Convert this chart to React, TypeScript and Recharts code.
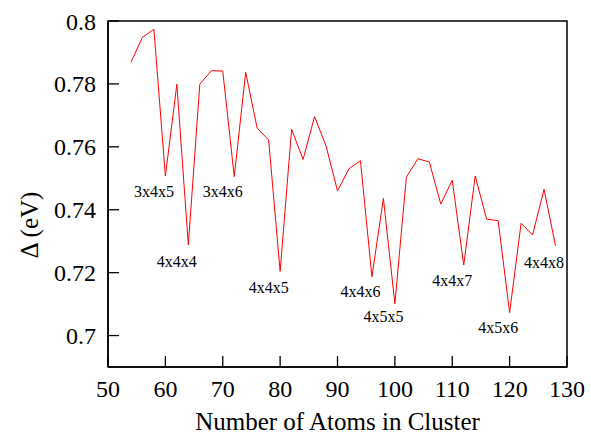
import { Line, LineChart, ReferenceArea, Scatter, XAxis, YAxis } from "recharts";

const atoms = [
  54, 56, 58, 60, 62, 64, 66, 68, 70, 72, 74, 76, 78, 80, 82, 84, 86, 88, 90, 92, 94, 96, 98, 100, 102, 104,
  106, 108, 110, 112, 114, 116, 118, 120, 122, 124, 126, 128,
];
const delta = [
  0.7869, 0.7948, 0.7974, 0.7507, 0.7799, 0.7288, 0.7799, 0.7842, 0.7841, 0.7505, 0.7837, 0.7659, 0.7622,
  0.7204, 0.7656, 0.756, 0.7696, 0.7603, 0.746, 0.753, 0.7556, 0.7187, 0.7436, 0.7101, 0.7503, 0.7562,
  0.7552, 0.7418, 0.7494, 0.7224, 0.7507, 0.737, 0.7365, 0.7073, 0.7357, 0.732, 0.7465, 0.7285,
];

const clusterNames = ["3x4x5", "3x4x6", "4x4x4", "4x4x5", "4x4x6", "4x5x5", "4x4x7", "4x5x6", "4x4x8"];
const clusterLabelX = [58, 70, 62, 78, 94, 98, 110, 118, 126];
const clusterLabelY = [0.7441, 0.7441, 0.7219, 0.7134, 0.7123, 0.7042, 0.7158, 0.7008, 0.7214];

const xTicks = [50, 60, 70, 80, 90, 100, 110, 120, 130];
const yTicks = [0.7, 0.72, 0.74, 0.76, 0.78, 0.8];
const yTickLabels = ["0.7", "0.72", "0.74", "0.76", "0.78", "0.8"];

const series = atoms.map((n, i) => ({ atoms: n, delta: delta[i] }));
const clusterLabels = clusterNames.map((name, i) => ({ atoms: clusterLabelX[i], delta: clusterLabelY[i], name }));

const FONT = "'Liberation Serif', 'DejaVu Serif', serif";
const TICK = 11;
const INK = "#000";

function BottomTick({ x, y, payload }: any) {
  return (
    <g>
      <path d={`M${x},${y}V${y - TICK}`} stroke={INK} strokeWidth={1.3} fill="none" />
      <text x={x} y={y + 30} textAnchor="middle" fontFamily={FONT} fontSize={24} fill={INK}>
        {payload.value}
      </text>
    </g>
  );
}

function TopTick({ x, y }: any) {
  return <path d={`M${x},${y}V${y + TICK}`} stroke={INK} strokeWidth={1.3} fill="none" />;
}

function LeftTick({ x, y, payload }: any) {
  const idx = yTicks.findIndex((t) => Math.abs(t - payload.value) < 1e-6);
  return (
    <g>
      <path d={`M${x},${y}H${x + TICK}`} stroke={INK} strokeWidth={1.3} fill="none" />
      <text x={x - 12} y={y + 8.5} textAnchor="end" fontFamily={FONT} fontSize={24} fill={INK}>
        {idx >= 0 ? yTickLabels[idx] : payload.value}
      </text>
    </g>
  );
}

function RightTick({ x, y }: any) {
  return <path d={`M${x},${y}H${x - TICK}`} stroke={INK} strokeWidth={1.3} fill="none" />;
}

function ClusterLabel({ cx, cy, payload }: any) {
  return (
    <text x={cx} y={cy} textAnchor="middle" fontFamily={FONT} fontSize={16} fill={INK}>
      {payload.name}
    </text>
  );
}

export default function App() {
  return (
    <div style={{ position: "absolute", left: 0, top: 0, background: "#fff" }}>
      <LineChart width={591} height={435} data={series} margin={{ top: 21, right: 24, bottom: 0, left: 0 }}>
        <XAxis
          dataKey="atoms"
          type="number"
          domain={[50, 130]}
          ticks={xTicks}
          allowDataOverflow
          height={68}
          stroke={INK}
          axisLine={{ strokeWidth: 1.5 }}
          tickLine={false}
          tickSize={0}
          tickMargin={0}
          tick={(p: any) => <BottomTick {...p} />}
          interval={0}
          label={{
            content: ({ viewBox }: any) => (
              <text
                x={viewBox.x + viewBox.width / 2}
                y={viewBox.y + 63}
                textAnchor="middle"
                fontFamily={FONT}
                fontSize={25}
                fill={INK}
              >
                Number of Atoms in Cluster
              </text>
            ),
          }}
        />
        <XAxis
          xAxisId="top"
          orientation="top"
          type="number"
          domain={[50, 130]}
          ticks={xTicks}
          height={0}
          stroke={INK}
          axisLine={{ strokeWidth: 1.5 }}
          tickLine={false}
          tickSize={0}
          tickMargin={0}
          tick={(p: any) => <TopTick {...p} />}
          interval={0}
        />
        <YAxis
          type="number"
          domain={[0.69, 0.8]}
          ticks={yTicks}
          allowDataOverflow
          width={108}
          stroke={INK}
          axisLine={{ strokeWidth: 1.5 }}
          tickLine={false}
          tickSize={0}
          tickMargin={0}
          tick={(p: any) => <LeftTick {...p} />}
          interval={0}
          label={{
            content: ({ viewBox }: any) => {
              const cx = viewBox.x + 29;
              const cy = viewBox.y + viewBox.height / 2 + 31;
              return (
                <text
                  x={cx}
                  y={cy}
                  textAnchor="middle"
                  dominantBaseline="central"
                  transform={`rotate(-90, ${cx}, ${cy})`}
                  fontFamily={FONT}
                  fontSize={25}
                  fill={INK}
                >
                  Δ (eV)
                </text>
              );
            },
          }}
        />
        <YAxis
          yAxisId="right"
          orientation="right"
          type="number"
          domain={[0.69, 0.8]}
          ticks={yTicks}
          width={0}
          stroke={INK}
          axisLine={{ strokeWidth: 1.5 }}
          tickLine={false}
          tickSize={0}
          tickMargin={0}
          tick={(p: any) => <RightTick {...p} />}
          interval={0}
        />
        <ReferenceArea x1={50} x2={130} y1={0.69} y2={0.8} fill="none" stroke={INK} strokeWidth={1.5} ifOverflow="visible" />
        <Line
          type="linear"
          dataKey="delta"
          stroke="#ff0000"
          strokeWidth={1}
          dot={false}
          activeDot={false}
          isAnimationActive={false}
        />
        <Scatter data={clusterLabels} dataKey="delta" shape={<ClusterLabel />} isAnimationActive={false} />
      </LineChart>
    </div>
  );
}
